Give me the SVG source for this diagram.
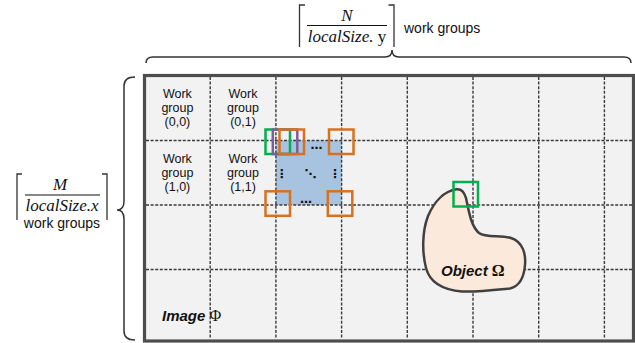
<svg xmlns="http://www.w3.org/2000/svg" width="635" height="343" viewBox="0 0 635 343">
  <style>
    .grid { stroke: #3a3a3a; stroke-width: 1.4; stroke-dasharray: 3 1.6; fill: none; }
    .lbl { font-family: "Liberation Sans", Arial, sans-serif; font-size: 14px; fill: #111; }
    .wg { font-family: "Liberation Sans", Arial, sans-serif; font-size: 12.5px; fill: #111; text-anchor: middle; }
    .mid { text-anchor: middle; }
    .math { font-family: "Liberation Serif", "Times New Roman", serif; font-size: 17px; font-style: italic; fill: #111; text-anchor: middle; }
    .brk { stroke: #333; stroke-width: 1.3; fill: none; }
    .brace { stroke: #333; stroke-width: 1.5; fill: none; }
    .win { fill: none; stroke-width: 2.5; }
    .orange { stroke: #d9701f; }
    .green { stroke: #00b050; }
    .purple { stroke: #7a5f9e; }
    .dots { font-family: "DejaVu Sans", sans-serif; font-size: 12px; font-weight: bold; fill: #111; text-anchor: middle; }
    .tag { font-family: "Liberation Sans", Arial, sans-serif; font-size: 15px; font-weight: bold; font-style: italic; fill: #111; }
    .sym { font-family: "Liberation Serif", "Times New Roman", serif; font-size: 16px; fill: #111; }
  </style>

  <!-- image domain -->
  <g id="image">
    <rect x="144.5" y="75.5" width="489" height="265.5" fill="#f2f2f2" stroke="#4d4d4d" stroke-width="3.2"/>
  </g>

  <!-- highlighted work group cell -->
  <g id="active-cell">
    <rect x="275.9" y="140.5" width="65.7" height="64.5" fill="#a7c3df"/>
  </g>

  <!-- work group grid -->
  <g id="grid">
    <path class="grid" d="M210.2 77V339 M275.9 77V339 M341.6 77V339 M407.3 77V339 M473 77V339 M538.7 77V339 M604.4 77V339"/>
    <path class="grid" d="M146 140.5H632 M146 205H632 M146 269.5H632"/>
  </g>

  <!-- object region -->
  <g id="object">
    <path d="M456.7 189.3 C462 189 464 192 466 198 C469 212 471 226 479 233 C486 238 500 235 511 238 C523 242 526 254 525 265 C524 278 520 286 510 288.5 C495 290 478 292 462 291.5 C444 290 430 283 426 268 C422 252 422 232 428 216 C434 202 444 191 456.7 189.3 Z" fill="#fbe9dc" stroke="#404040" stroke-width="2.5"/>
    <text class="tag" x="441" y="276">Object <tspan class="sym" font-weight="bold" font-style="normal">Ω</tspan></text>
  </g>

  <!-- labels of work groups -->
  <g id="wg-0-0">
    <text class="wg" x="177.4" y="98">Work<tspan x="177.4" dy="14">group</tspan><tspan x="177.4" dy="14">(0,0)</tspan></text>
  </g>
  <g id="wg-0-1">
    <text class="wg" x="243" y="98">Work<tspan x="243" dy="14">group</tspan><tspan x="243" dy="14">(0,1)</tspan></text>
  </g>
  <g id="wg-1-0">
    <text class="wg" x="177.4" y="162.5">Work<tspan x="177.4" dy="14">group</tspan><tspan x="177.4" dy="14">(1,0)</tspan></text>
  </g>
  <g id="wg-1-1">
    <text class="wg" x="243" y="162.5">Work<tspan x="243" dy="14">group</tspan><tspan x="243" dy="14">(1,1)</tspan></text>
  </g>

  <!-- ellipsis marks inside the active cell -->
  <g id="cell-dots">
    <text class="dots" x="316.5" y="149">…</text>
    <text class="dots" x="306" y="203">…</text>
    <text class="dots" x="281.7" y="178">⋮</text>
    <text class="dots" x="335" y="178">⋮</text>
    <text class="dots" x="310.5" y="178">⋱</text>
  </g>

  <!-- sliding windows -->
  <g id="windows">
    <rect class="win green" x="265.5" y="129.5" width="24.5" height="24.5"/>
    <rect class="win purple" x="272.8" y="129.5" width="24.5" height="24.5"/>
    <rect class="win orange" x="279.5" y="129.5" width="24.5" height="24.5"/>
    <rect class="win orange" x="329" y="129.5" width="24.5" height="24.5"/>
    <rect class="win orange" x="265.5" y="191.3" width="24.5" height="24.5"/>
    <rect class="win orange" x="327.8" y="191.3" width="24.5" height="24.5"/>
    <rect class="win green" x="453.5" y="182" width="24.5" height="24.5"/>
  </g>

  <g id="image-label">
    <text class="tag" x="162" y="321">Image <tspan class="sym" font-style="normal" font-weight="normal">Φ</tspan></text>
  </g>

  <!-- braces -->
  <g id="braces">
    <path class="brace" d="M146 63 Q146 57 153 57 H385 Q392 57 392 50 Q392 57 399 57 H624 Q631 57 631 63"/>
    <path class="brace" d="M135 77 Q124 77 124 86 V201 Q124 210 117 210 Q124 210 124 219 V331 Q124 340 135 340"/>
  </g>

  <!-- column count -->
  <g id="cols-label">
    <path class="brk" d="M305 5H299.5V47 M388.5 5H394V47"/>
    <text class="math" x="347" y="20.5">N</text>
    <line x1="307" y1="25.5" x2="387" y2="25.5" stroke="#111" stroke-width="1"/>
    <text class="math" x="347" y="42">localSize.<tspan font-style="normal"> y</tspan></text>
    <text class="lbl" x="404" y="33">work groups</text>
  </g>

  <!-- row count -->
  <g id="rows-label">
    <path class="brk" d="M22 174H17V220 M102 174H107V220"/>
    <text class="math" x="60" y="190">M</text>
    <line x1="25" y1="195" x2="100" y2="195" stroke="#111" stroke-width="1"/>
    <text class="math" x="62" y="211">localSize.x</text>
    <text class="lbl mid" x="62" y="228">work groups</text>
  </g>
</svg>
